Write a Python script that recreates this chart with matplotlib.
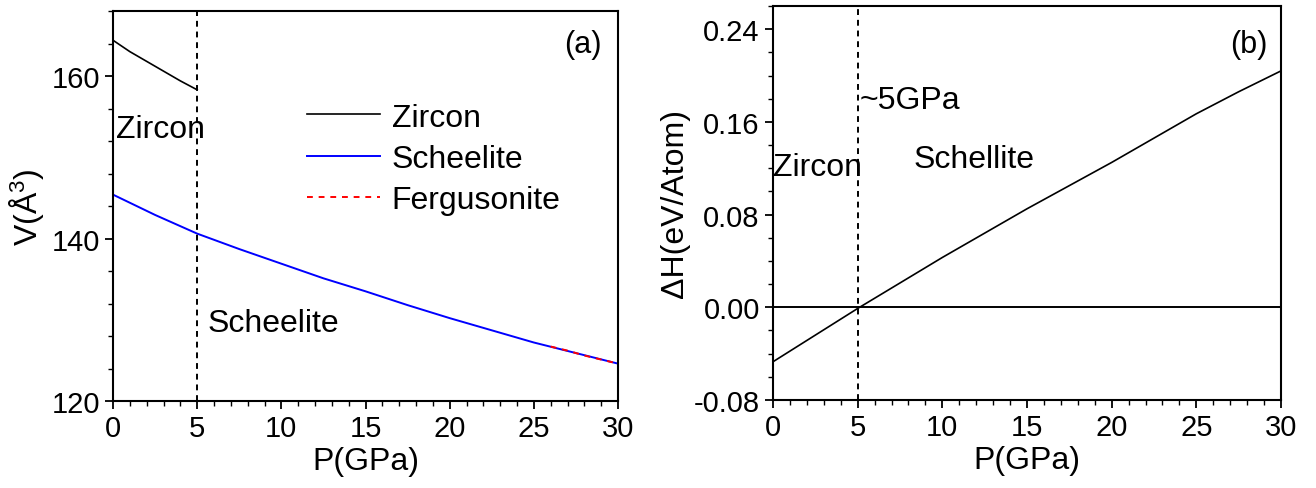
import matplotlib.pyplot as plt
from matplotlib.ticker import MultipleLocator

plt.rcParams['font.family'] = ['Liberation Sans', 'DejaVu Sans']

# panel (a): volume vs pressure
p_zircon = [0, 1, 2, 3, 4, 5]
v_zircon = [164.4, 163.0, 161.8, 160.6, 159.4, 158.3]

p_scheelite = [0, 2.5, 5, 7.5, 10, 12.5, 15, 17.5, 20, 22.5, 25, 27.5, 30]
v_scheelite = [145.4, 142.9, 140.6, 138.7, 136.9, 135.1, 133.5, 131.8, 130.2, 128.7, 127.2, 125.9, 124.6]

p_fergusonite = [26, 27, 28, 29, 30]
v_fergusonite = [126.7, 126.2, 125.6, 125.1, 124.6]

# panel (b): enthalpy difference vs pressure
p_dh = [0, 2.5, 5, 7.5, 10, 12.5, 15, 17.5, 20, 22.5, 25, 27.5, 30]
dh = [-0.047, -0.024, -0.001, 0.021, 0.043, 0.064, 0.085, 0.105, 0.125, 0.146, 0.167, 0.186, 0.204]

p_transition = 5

fig = plt.figure(figsize=(13.16, 4.89), dpi=100)
ax1 = fig.add_axes([113 / 1316, 1 - 402 / 489, 505 / 1316, 390 / 489])
ax2 = fig.add_axes([773 / 1316, 1 - 401 / 489, 508 / 1316, 394 / 489])

tfs = 21   # tick labels
lfs = 23   # axis labels, annotations, legend

ax1.plot(p_zircon, v_zircon, color='black', lw=1.2, label='Zircon')
ax1.plot(p_scheelite, v_scheelite, color='blue', lw=1.4, label='Scheelite')
ax1.plot(p_fergusonite, v_fergusonite, color='red', lw=1.4, ls=(0, (3, 3)), label='Fergusonite')
ax1.axvline(p_transition, color='black', lw=1.4, ls=(0, (3, 2.5)))
ax1.set_xlim(0, 30)
ax1.set_ylim(120, 168)
ax1.yaxis.set_major_locator(MultipleLocator(20))
ax1.yaxis.set_minor_locator(MultipleLocator(4))
ax1.set_ylabel('V($\\mathregular{\\AA^3}$)', fontsize=lfs, labelpad=4)
ax1.text(0.968, 0.915, '(a)', transform=ax1.transAxes, ha='right', va='center', fontsize=lfs - 1)
ax1.text(0.2, 153.5, 'Zircon', ha='left', va='center', fontsize=lfs)
ax1.text(5.6, 129.6, 'Scheelite', ha='left', va='center', fontsize=lfs)
ax1.legend(loc='upper left', bbox_to_anchor=(0.384, 0.765), frameon=False, fontsize=lfs,
           handlelength=2.3, handletextpad=0.35, labelspacing=0.35,
           borderpad=0, borderaxespad=0)

ax2.plot(p_dh, dh, color='black', lw=1.2)
ax2.axhline(0, color='black', lw=1.4)
ax2.axvline(p_transition, color='black', lw=1.4, ls=(0, (3, 2.5)))
ax2.set_xlim(0, 30)
ax2.set_ylim(-0.08, 0.26)
ax2.yaxis.set_major_locator(MultipleLocator(0.08))
ax2.yaxis.set_minor_locator(MultipleLocator(0.02))
ax2.yaxis.set_major_formatter(lambda v, pos: f'{v:.2f}')
ax2.set_ylabel('ΔH(eV/Atom)', fontsize=lfs, labelpad=3)
ax2.text(0.974, 0.904, '(b)', transform=ax2.transAxes, ha='right', va='center', fontsize=lfs - 1)
ax2.text(5.1, 0.179, '~5GPa', ha='left', va='center', fontsize=lfs)
ax2.text(0.0, 0.121, 'Zircon', ha='left', va='center', fontsize=lfs)
ax2.text(8.3, 0.128, 'Schellite', ha='left', va='center', fontsize=lfs)

for ax in (ax1, ax2):
    ax.xaxis.set_major_locator(MultipleLocator(5))
    ax.xaxis.set_minor_locator(MultipleLocator(1))
    ax.tick_params(which='major', direction='out', length=6, width=1.3, labelsize=tfs)
    ax.tick_params(which='minor', direction='out', length=3.5, width=1.0)
    ax.set_xlabel('P(GPa)', fontsize=lfs, labelpad=3)
    for s in ax.spines.values():
        s.set_linewidth(1.5)

fig.savefig('out.png', dpi=100)
